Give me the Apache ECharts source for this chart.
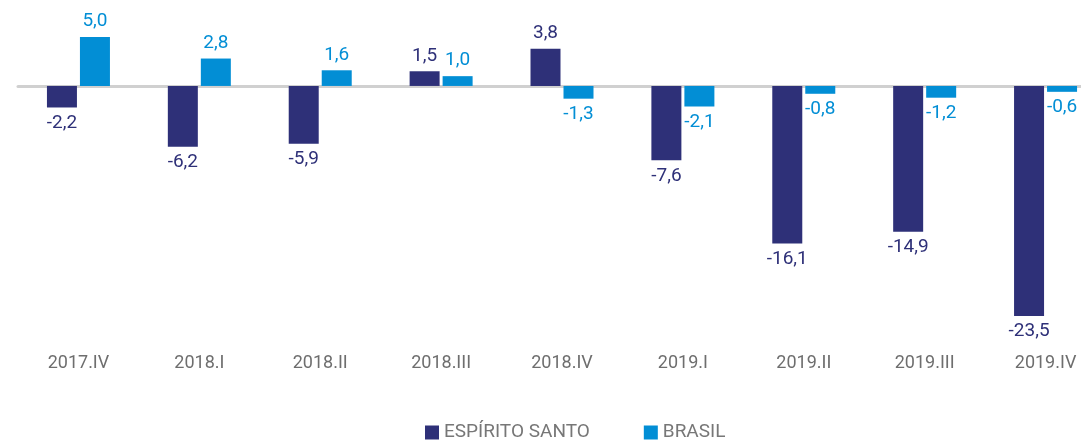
<!DOCTYPE html>
<html>
<head>
<meta charset="utf-8">
<script src="https://cdn.jsdelivr.net/npm/echarts@6/dist/echarts.min.js"></script>
<style>
html,body{margin:0;padding:0;background:#fff;}
#chart{width:1081px;height:444px;}
</style>
</head>
<body>
<div id="chart"></div>
<script>
// trimestres
const categories = ['2017.IV','2018.I','2018.II','2018.III','2018.IV','2019.I','2019.II','2019.III','2019.IV']
const espiritoSanto = [-2.2, -6.2, -5.9, 1.5, 3.8, -7.6, -16.1, -14.9, -23.5]
const brasil = [5.0, 2.8, 1.6, 1.0, -1.3, -2.1, -0.8, -1.2, -0.6]

const corES = '#2e3078'
const corBR = '#028ed5'

function fmt(v){
    return v.toFixed(1).replace('.', ',')
}

function toItems(arr){
    return arr.map(v => ({
        value: v,
        label: { position: v < 0 ? 'bottom' : 'top' }
    }))
}

const chart = echarts.init(document.getElementById('chart'))

const options = {
    animation: false,
    grid: {
        left: 18,
        width: 1088,
        top: 37,
        height: 279,
        outerBoundsMode: 'none',
        containLabel: false
    },
    legend: {
        bottom: -3,
        left: 420,
        itemWidth: 14,
        itemHeight: 14,
        itemGap: 54,
        icon: 'rect',
        textStyle: {
            color: '#777',
            fontSize: 19,
            fontFamily: 'Roboto'
        },
        data: ['ESPÍRITO SANTO', 'BRASIL']
    },
    xAxis: {
        type: 'category',
        data: categories,
        axisLine: {
            onZero: true,
            lineStyle: { color: '#d0d0d0', width: 3 }
        },
        axisTick: { show: false },
        axisLabel: {
            color: '#6e6e6e',
            fontSize: 18,
            fontFamily: 'Roboto',
            margin: 38,
            hideOverlap: false
        }
    },
    yAxis: {
        type: 'value',
        min: -23.5,
        max: 5,
        show: false,
        splitLine: { show: false }
    },
    series: [
        {
            name: 'ESPÍRITO SANTO',
            type: 'bar',
            barWidth: 30,
            barGap: '10%',
            itemStyle: { color: corES },
            label: {
                show: true,
                distance: 6,
                color: corES,
                fontSize: 19,
                fontFamily: 'Roboto',
                formatter: p => fmt(p.value)
            },
            data: toItems(espiritoSanto)
        },
        {
            name: 'BRASIL',
            type: 'bar',
            barWidth: 30,
            itemStyle: { color: corBR },
            label: {
                show: true,
                distance: 6,
                color: corBR,
                fontSize: 19,
                fontFamily: 'Roboto',
                formatter: p => fmt(p.value)
            },
            data: toItems(brasil)
        }
    ]
}

chart.setOption(options)
</script>
</body>
</html>
